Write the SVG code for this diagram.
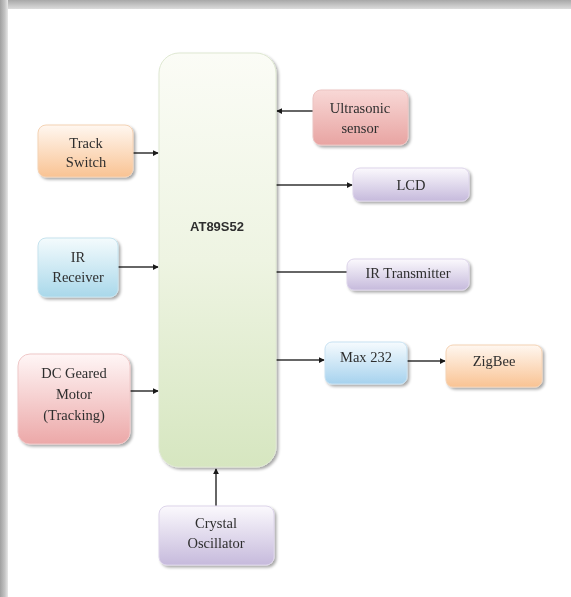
<svg xmlns="http://www.w3.org/2000/svg" width="571" height="597" viewBox="0 0 571 597">
<defs>
<style>
.t{font-family:"Liberation Serif","Times New Roman",serif;font-size:14.5px;fill:#2e2e2e;text-anchor:middle}
.b{font-family:"Liberation Sans",Arial,sans-serif;font-size:13px;font-weight:bold;fill:#2e2e2e;text-anchor:middle}
.ln{stroke:#333;stroke-width:1.5;fill:none}
.box{filter:url(#sh)}
</style>
<filter id="sh" x="-20%" y="-20%" width="150%" height="150%">
<feGaussianBlur in="SourceAlpha" stdDeviation="1.5"/>
<feOffset dx="1.5" dy="2" result="o"/>
<feComponentTransfer><feFuncA type="linear" slope="0.35"/></feComponentTransfer>
<feMerge><feMergeNode/><feMergeNode in="SourceGraphic"/></feMerge>
</filter>
<marker id="ah" viewBox="0 0 8 8" refX="7" refY="4" markerWidth="6" markerHeight="6" orient="auto" markerUnits="userSpaceOnUse">
<path d="M0,0 L8,4 L0,8 z" fill="#1a1a1a"/>
</marker>
<linearGradient id="gTop" x1="0" y1="0" x2="0" y2="1"><stop offset="0" stop-color="#a8a8a8"/><stop offset="1" stop-color="#dcdcdc"/></linearGradient>
<linearGradient id="gLeft" x1="0" y1="0" x2="1" y2="0"><stop offset="0" stop-color="#a0a0a0"/><stop offset="0.6" stop-color="#c4c4c4"/><stop offset="1" stop-color="#e8e8e8"/></linearGradient>
<linearGradient id="gMain" x1="0" y1="0" x2="0" y2="1"><stop offset="0" stop-color="#fbfcf6"/><stop offset="0.5" stop-color="#eef4e2"/><stop offset="1" stop-color="#d6e6c0"/></linearGradient>
<linearGradient id="gOr" x1="0" y1="0" x2="0" y2="1"><stop offset="0" stop-color="#fff7f0"/><stop offset="1" stop-color="#f9c393"/></linearGradient>
<linearGradient id="gBl" x1="0" y1="0" x2="0" y2="1"><stop offset="0" stop-color="#f4fbfd"/><stop offset="1" stop-color="#a9d8ea"/></linearGradient>
<linearGradient id="gPk" x1="0" y1="0" x2="0" y2="1"><stop offset="0" stop-color="#fff6f6"/><stop offset="1" stop-color="#eca8a8"/></linearGradient>
<linearGradient id="gPk2" x1="0" y1="0" x2="0" y2="1"><stop offset="0" stop-color="#f8d8d6"/><stop offset="1" stop-color="#e8a4a2"/></linearGradient>
<linearGradient id="gLv" x1="0" y1="0" x2="0" y2="1"><stop offset="0" stop-color="#fbf9fd"/><stop offset="1" stop-color="#c6badc"/></linearGradient>
<linearGradient id="gBl2" x1="0" y1="0" x2="0" y2="1"><stop offset="0" stop-color="#f6fbfe"/><stop offset="1" stop-color="#a6d2ee"/></linearGradient>
</defs>
<rect x="0" y="0" width="571" height="597" fill="#ffffff"/>
<rect x="0" y="0" width="571" height="9" fill="url(#gTop)"/>
<rect x="0" y="0" width="8" height="597" fill="url(#gLeft)"/>

<g id="connectors">
<line class="ln" x1="133" y1="153" x2="158" y2="153" marker-end="url(#ah)"/>
<line class="ln" x1="118" y1="267" x2="158" y2="267" marker-end="url(#ah)"/>
<line class="ln" x1="130" y1="391" x2="158" y2="391" marker-end="url(#ah)"/>
<line class="ln" x1="216" y1="506" x2="216" y2="469" marker-end="url(#ah)"/>
<line class="ln" x1="313" y1="111" x2="277" y2="111" marker-end="url(#ah)"/>
<line class="ln" x1="276" y1="185" x2="352" y2="185" marker-end="url(#ah)"/>
<line class="ln" x1="276" y1="272" x2="347" y2="272" stroke="#666"/>
<line class="ln" x1="276" y1="360" x2="324" y2="360" marker-end="url(#ah)"/>
<line class="ln" x1="407" y1="361" x2="445" y2="361" marker-end="url(#ah)"/>
</g>

<g id="at89s52" class="box">
<rect x="159" y="53" width="117" height="414" rx="20" fill="url(#gMain)" stroke="#dfe8d2" stroke-width="1"/>
<text class="b" x="217" y="231">AT89S52</text>
</g>
<g id="track-switch" class="box">
<rect x="38" y="125" width="95" height="52" rx="8" fill="url(#gOr)" stroke="#f4d2b4" stroke-width="1"/>
<text class="t" x="86" y="148">Track</text>
<text class="t" x="86" y="167">Switch</text>
</g>
<g id="ir-receiver" class="box">
<rect x="38" y="238" width="80" height="59" rx="8" fill="url(#gBl)" stroke="#c6e3ee" stroke-width="1"/>
<text class="t" x="78" y="262">IR</text>
<text class="t" x="78" y="282">Receiver</text>
</g>
<g id="dc-motor" class="box">
<rect x="18" y="354" width="112" height="90" rx="12" fill="url(#gPk)" stroke="#efc8c8" stroke-width="1"/>
<text class="t" x="74" y="378">DC Geared</text>
<text class="t" x="74" y="399">Motor</text>
<text class="t" x="74" y="420">(Tracking)</text>
</g>
<g id="crystal" class="box">
<rect x="159" y="506" width="115" height="59" rx="8" fill="url(#gLv)" stroke="#ddd4ea" stroke-width="1"/>
<text class="t" x="216" y="528">Crystal</text>
<text class="t" x="216" y="548">Oscillator</text>
</g>
<g id="ultrasonic" class="box">
<rect x="313" y="90" width="95" height="55" rx="8" fill="url(#gPk2)" stroke="#ecc4c2" stroke-width="1"/>
<text class="t" x="360" y="113">Ultrasonic</text>
<text class="t" x="360" y="133">sensor</text>
</g>
<g id="lcd" class="box">
<rect x="353" y="168" width="116" height="33" rx="7" fill="url(#gLv)" stroke="#ddd4ea" stroke-width="1"/>
<text class="t" x="411" y="190">LCD</text>
</g>
<g id="ir-transmitter" class="box">
<rect x="347" y="259" width="122" height="31" rx="7" fill="url(#gLv)" stroke="#ddd4ea" stroke-width="1"/>
<text class="t" x="408" y="278">IR Transmitter</text>
</g>
<g id="max232" class="box">
<rect x="325" y="342" width="82" height="42" rx="7" fill="url(#gBl2)" stroke="#c8e2f2" stroke-width="1"/>
<text class="t" x="366" y="362">Max 232</text>
</g>
<g id="zigbee" class="box">
<rect x="446" y="345" width="96" height="42" rx="7" fill="url(#gOr)" stroke="#f4d2b4" stroke-width="1"/>
<text class="t" x="494" y="366">ZigBee</text>
</g>
</svg>
